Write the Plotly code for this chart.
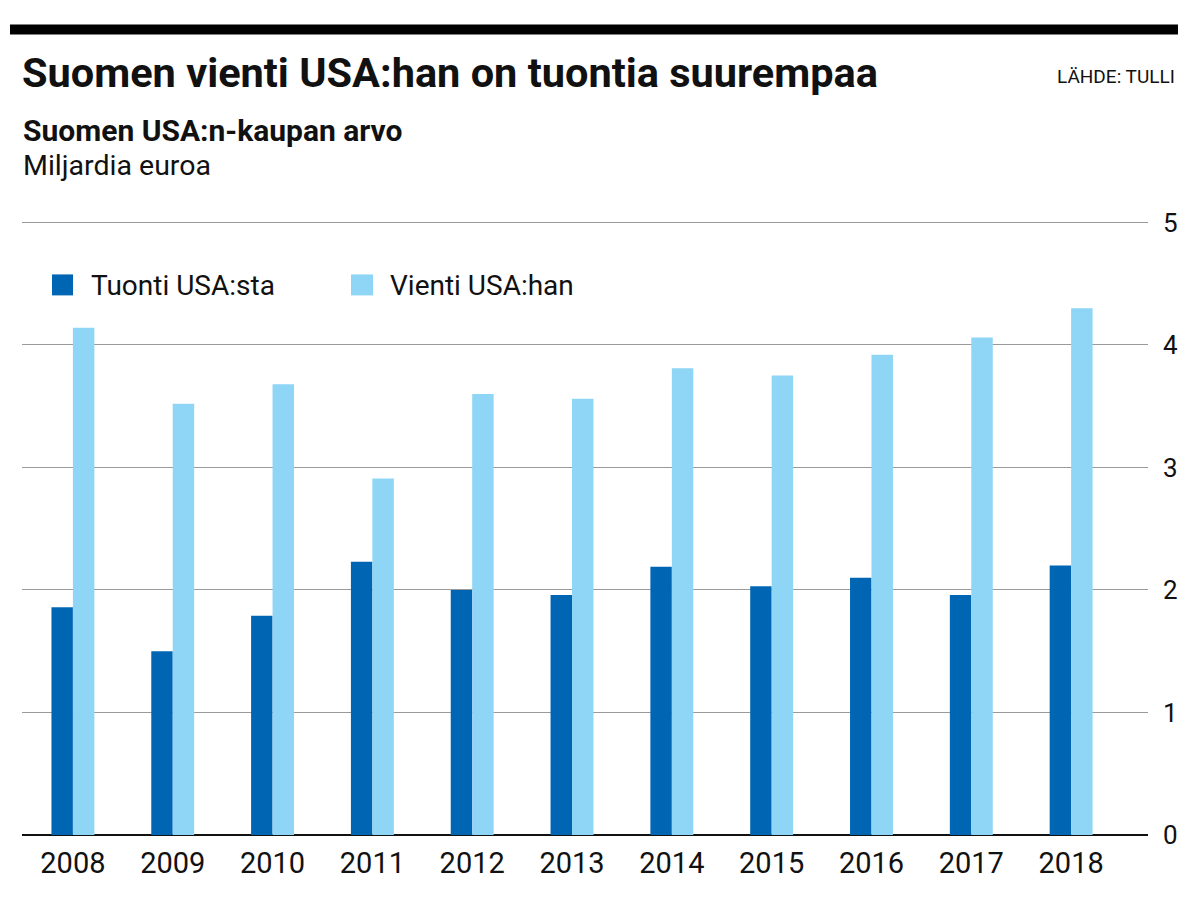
import plotly.graph_objects as go

years = ["2008", "2009", "2010", "2011", "2012", "2013", "2014", "2015", "2016", "2017", "2018"]
tuonti = [1.86, 1.50, 1.79, 2.23, 2.00, 1.96, 2.19, 2.03, 2.10, 1.96, 2.20]
vienti = [4.14, 3.52, 3.68, 2.91, 3.60, 3.56, 3.81, 3.75, 3.92, 4.06, 4.30]
y_ticks = [0, 1, 2, 3, 4, 5]

DARK = "#0066b3"
LIGHT = "#8fd5f5"
FONT = "Roboto, sans-serif"

W, H = 1200, 900
OFF = 8  # page body margin
# plot area in screen pixels
SL, SR, ST, SB = 22, 1148, 222, 835
L, R, B = SL - OFF, SR - OFF, SB - OFF
YMAX = 5.02
UNIT = (SB - ST) / 5.0
T = B - YMAX * UNIT


def px(x):
    return (x - OFF - L) / (R - L)


def py(y):
    return (B - (y - OFF)) / (B - T)


fig = go.Figure()
fig.add_trace(go.Bar(x=years, y=tuonti, name="Tuonti USA:sta", marker_color=DARK,
                     marker_line_width=0))
fig.add_trace(go.Bar(x=years, y=vienti, name="Vienti USA:han", marker_color=LIGHT,
                     marker_line_width=0))

fig.update_layout(
    width=W, height=H,
    margin=dict(l=L, r=W - R, t=T, b=H - B, autoexpand=False),
    plot_bgcolor="white", paper_bgcolor="white",
    barmode="group", bargap=0.57, bargroupgap=0,
    showlegend=False,
    font=dict(family=FONT, color="#111"),
)
fig.update_xaxes(
    type="category", range=[-0.51, 10.77],
    showgrid=False, showline=False, zeroline=False, ticks="",
    tickfont=dict(size=29, family=FONT, color="#111"),
    ticklabelstandoff=8,
)
fig.update_yaxes(
    range=[0, YMAX], side="right", tickvals=y_ticks,
    showgrid=True, gridcolor="#9a9a9a", gridwidth=1,
    zeroline=True, zerolinecolor="#111", zerolinewidth=2,
    showline=False, ticks="",
    tickfont=dict(size=26, family=FONT, color="#111"),
    ticklabelstandoff=14,
)

# top black bar
fig.add_shape(type="rect", xref="paper", yref="paper",
              x0=px(10), x1=px(1178), y0=py(24), y1=py(34),
              fillcolor="#000", line_width=0, layer="above")

# legend squares
fig.add_shape(type="rect", xref="paper", yref="paper",
              x0=px(52), x1=px(73), y0=py(274), y1=py(295),
              fillcolor=DARK, line_width=0)
fig.add_shape(type="rect", xref="paper", yref="paper",
              x0=px(351), x1=px(373), y0=py(274), y1=py(295),
              fillcolor=LIGHT, line_width=0)

annots = [
    dict(text="<b>Suomen vienti USA:han on tuontia suurempaa</b>", x=px(20), y=py(72),
         size=41.5, xanchor="left"),
    dict(text="LÄHDE: TULLI", x=px(1177), y=py(76), size=19, xanchor="right"),
    dict(text="<b>Suomen USA:n-kaupan arvo</b>", x=px(21), y=py(130),
         size=30, xanchor="left"),
    dict(text="Miljardia euroa", x=px(21), y=py(165), size=28.5, xanchor="left"),
    dict(text="Tuonti USA:sta", x=px(89), y=py(285), size=28, xanchor="left"),
    dict(text="Vienti USA:han", x=px(388), y=py(285), size=28, xanchor="left"),
]
for a in annots:
    fig.add_annotation(text=a["text"], x=a["x"], y=a["y"], xref="paper", yref="paper",
                       xanchor=a["xanchor"], yanchor="middle", showarrow=False,
                       font=dict(size=a["size"], family=FONT, color="#111"))

fig.write_html("out.html")
